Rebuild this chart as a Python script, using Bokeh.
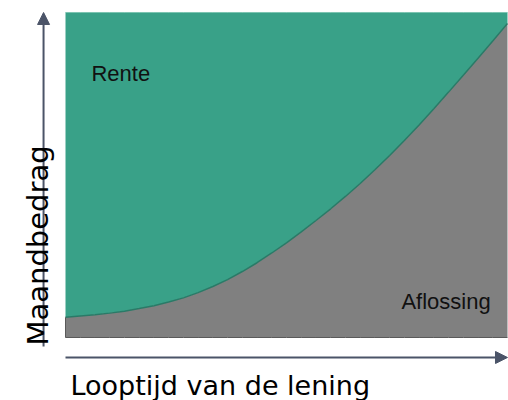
import math
from bokeh.plotting import figure
from bokeh.models import Range1d, Label, Arrow, NormalHead
from bokeh.embed import file_html
from bokeh.resources import INLINE

# Data: loan term (years) and the repayment (aflossing) part of the monthly amount, %
looptijd = list(range(0, 31))
aflossing = [6.2, 6.6, 7.0, 7.5, 8.1, 8.9, 9.8, 10.9, 12.2, 13.8,
             15.7, 17.8, 20.3, 23.0, 26.0, 29.1, 32.5, 36.0, 39.6, 43.4,
             47.4, 51.6, 56.0, 60.6, 65.4, 70.4, 75.5, 80.7, 85.9, 91.2, 96.6]
maandbedrag = [100.0] * len(looptijd)

x_label = "Looptijd van de lening"
y_label = "Maandbedrag"
area_labels = ["Rente", "Aflossing"]

GREEN = "#39a188"
GRAY = "#808080"
CURVE = "#2a7a67"
ARROW = "#4b5468"

W, H = 508, 400
p = figure(width=W, height=H, output_backend="svg", toolbar_location=None,
           x_range=Range1d(-4.412, 30.068), y_range=Range1d(-19.385, 103.69),
           min_border=0)
p.axis.visible = False
p.grid.visible = False
p.outline_line_color = None
p.background_fill_color = "white"
p.border_fill_color = "white"

zeros = [0] * len(looptijd)
# areas
p.varea(x=looptijd, y1=aflossing, y2=maandbedrag, fill_color=GREEN)
p.varea(x=looptijd, y1=zeros, y2=aflossing, fill_color=GRAY)
p.line(x=looptijd, y=aflossing, line_color=CURVE, line_width=1.5)
p.line(x=looptijd, y=zeros, line_color="#5a5a5a", line_width=1)
p.line(x=[looptijd[0], looptijd[0]], y=[0, aflossing[0]], line_color="#5a5a5a", line_width=1)
p.line(x=looptijd, y=maandbedrag, line_color="#7cc4b1", line_width=1)

# axis arrows
p.add_layout(Arrow(x_start=-1.49, y_start=-2.8, x_end=-1.49, y_end=100.0,
                   line_color=ARROW, line_width=2,
                   end=NormalHead(size=12, fill_color=ARROW, line_color=ARROW)))
p.add_layout(Arrow(x_start=0, y_start=-6.15, x_end=30.0, y_end=-6.15,
                   line_color=ARROW, line_width=2,
                   end=NormalHead(size=12, fill_color=ARROW, line_color=ARROW)))

# texts
p.add_layout(Label(x=1.76, y=81.1, text=area_labels[0], text_font="Liberation Sans",
                   text_font_size="22px", text_color="#111111", text_baseline="alphabetic"))
p.add_layout(Label(x=22.8, y=11.2, text=area_labels[1], text_font="Liberation Sans",
                   text_font_size="22px", text_color="#111111", text_baseline="alphabetic"))
p.add_layout(Label(x=0.34, y=-14.8, text=x_label, text_font="DejaVu Sans",
                   text_font_size="27px", text_color="#000000", text_baseline="alphabetic"))
p.add_layout(Label(x=-1.90, y=-2.46, text=y_label, angle=math.pi / 2, text_font="DejaVu Sans",
                   text_font_size="29px", text_color="#000000", text_baseline="alphabetic",
                   text_align="left"))

open("out.html", "w").write(file_html(p, INLINE))
